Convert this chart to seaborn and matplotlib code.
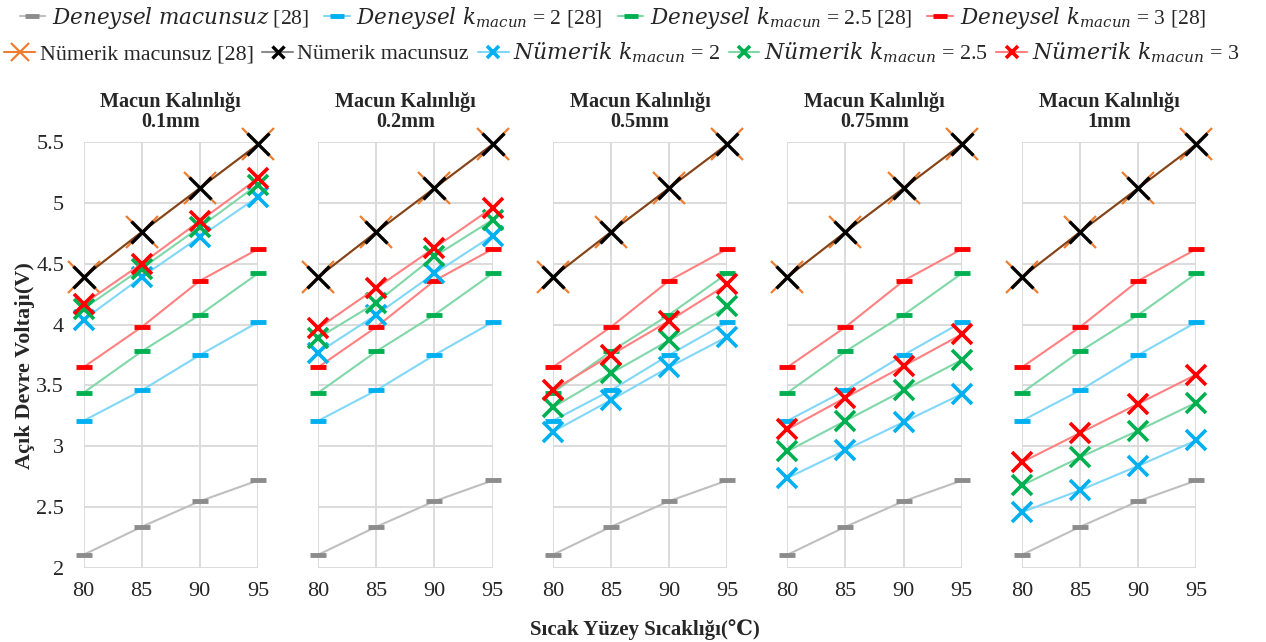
import numpy as np
import pandas as pd
import matplotlib
matplotlib.use("Agg")
import matplotlib.pyplot as plt
import seaborn as sns

# ==========================================================
# Data
# ==========================================================
temps = [80, 85, 90, 95]
thickness_labels = ["0.1mm", "0.2mm", "0.5mm", "0.75mm", "1mm"]

exp_macunsuz = [2.11, 2.34, 2.55, 2.72]
exp_k2 = [3.21, 3.46, 3.75, 4.02]
exp_k25 = [3.44, 3.78, 4.08, 4.42]
exp_k3 = [3.65, 3.98, 4.36, 4.62]

num_macunsuz_ref = [4.39, 4.76, 5.12, 5.48]
num_macunsuz = [4.39, 4.76, 5.12, 5.48]

# one row per paste thickness
num_k2 = [
    [4.04, 4.39, 4.72, 5.05],
    [3.77, 4.08, 4.42, 4.73],
    [3.12, 3.38, 3.65, 3.90],
    [2.74, 2.97, 3.20, 3.43],
    [2.46, 2.64, 2.84, 3.05],
]
num_k25 = [
    [4.13, 4.46, 4.80, 5.15],
    [3.89, 4.18, 4.56, 4.86],
    [3.32, 3.60, 3.87, 4.15],
    [2.96, 3.21, 3.46, 3.71],
    [2.68, 2.91, 3.13, 3.36],
]
num_k3 = [
    [4.17, 4.50, 4.85, 5.20],
    [3.97, 4.30, 4.63, 4.96],
    [3.46, 3.75, 4.03, 4.33],
    [3.14, 3.40, 3.66, 3.92],
    [2.87, 3.11, 3.35, 3.59],
]

y_ticks = [2, 2.5, 3, 3.5, 4, 4.5, 5, 5.5]
y_tick_labels = ["2", "2.5", "3", "3.5", "4", "4.5", "5", "5.5"]

# ==========================================================
# Style
# ==========================================================
sns.set_theme(style="white")
plt.rcParams["font.family"] = ["Liberation Serif", "DejaVu Serif"]
plt.rcParams["mathtext.fontset"] = "custom"
plt.rcParams["mathtext.rm"] = "DejaVu Serif"
plt.rcParams["mathtext.it"] = "DejaVu Serif:italic"

GRAY, BLUE, GREEN, RED = "#8C8C8C", "#00B0F0", "#00B050", "#FF0000"
ORANGE = "#ED7D31"
LIGHT = {GRAY: "#BFBFBF", BLUE: "#80D7F7", GREEN: "#80D7A7", RED: "#FF8080"}

fig, axes = plt.subplots(1, 5, figsize=(12.66, 6.42), dpi=100, sharey=True)
fig.subplots_adjust(left=0.066, right=0.945, bottom=0.115, top=0.779, wspace=0.345)

exp_series = [
    (exp_macunsuz, GRAY, r"$\mathit{Deneysel\ macunsuz}$ [28]"),
    (exp_k2, BLUE, r"$\mathit{Deneysel\ k_{macun}}$ = 2 [28]"),
    (exp_k25, GREEN, r"$\mathit{Deneysel\ k_{macun}}$ = 2.5 [28]"),
    (exp_k3, RED, r"$\mathit{Deneysel\ k_{macun}}$ = 3 [28]"),
]

for i, ax in enumerate(axes):
    for vals, col, lab in exp_series:
        sns.lineplot(x=temps, y=vals, ax=ax, color=LIGHT[col], linewidth=1.5,
                     marker="_", markersize=12, markeredgewidth=3.5,
                     markeredgecolor=col, label=lab, clip_on=False, zorder=3)

    sns.lineplot(x=temps, y=num_macunsuz_ref, ax=ax, color=ORANGE, linewidth=1.5,
                 marker="x", markersize=23, markeredgewidth=1.6,
                 markeredgecolor=ORANGE, label="Nümerik macunsuz [28]",
                 clip_on=False, zorder=4)
    sns.lineplot(x=temps, y=num_macunsuz, ax=ax, color=(0, 0, 0, 0.45), linewidth=1.5,
                 marker="x", markersize=16, markeredgewidth=2.4,
                 markeredgecolor="black", label="Nümerik macunsuz",
                 clip_on=False, zorder=5)

    num_series = [
        (num_k2[i], BLUE, r"$\mathit{Nümerik\ k_{macun}}$ = 2"),
        (num_k25[i], GREEN, r"$\mathit{Nümerik\ k_{macun}}$ = 2.5"),
        (num_k3[i], RED, r"$\mathit{Nümerik\ k_{macun}}$ = 3"),
    ]
    for vals, col, lab in num_series:
        sns.lineplot(x=temps, y=vals, ax=ax, color=LIGHT[col], linewidth=1.5,
                     marker="x", markersize=15, markeredgewidth=2.6,
                     markeredgecolor=col, label=lab, clip_on=False, zorder=5)

    if ax.get_legend() is not None:
        ax.get_legend().remove()

    ax.set_xlim(80, 95)
    ax.set_ylim(2, 5.5)
    ax.set_xticks(temps)
    ax.set_xticklabels([str(t) for t in temps], fontsize=16)
    ax.set_yticks(y_ticks)
    ax.set_yticklabels(y_tick_labels, fontsize=16)
    ax.tick_params(axis="x", length=0, pad=10)
    ax.tick_params(axis="y", length=0, pad=14)
    ax.grid(True, color="#D9D9D9", linewidth=1.3)
    ax.set_axisbelow(True)
    for sp in ax.spines.values():
        sp.set_visible(False)
    ax.set_xlabel("")
    ax.set_ylabel("")
    ax.set_title("Macun Kalınlığı\n" + thickness_labels[i], fontsize=14.5,
                 fontweight="bold", pad=11, linespacing=0.95)

handles, labels = axes[0].get_legend_handles_labels()
fig.legend(handles[:4], labels[:4], loc="center", bbox_to_anchor=(0.484, 0.972),
           ncol=4, frameon=False, fontsize=15.5, handlelength=1.2,
           handletextpad=0.3, columnspacing=0.7, markerscale=0.8)
fig.legend(handles[4:], labels[4:], loc="center", bbox_to_anchor=(0.491, 0.918),
           ncol=5, frameon=False, fontsize=15.8, handlelength=1.4,
           handletextpad=0.2, columnspacing=0.4, markerscale=0.55)

fig.text(0.509, 0.02, "Sıcak Yüzey Sıcaklığı(℃)", ha="center", va="center",
         fontsize=15, fontweight="bold")
fig.text(0.0197, 0.431, "Açık Devre Voltajı(V)", ha="center", va="center",
         rotation=90, fontsize=16, fontweight="bold")

fig.savefig("out.png", dpi=100)
